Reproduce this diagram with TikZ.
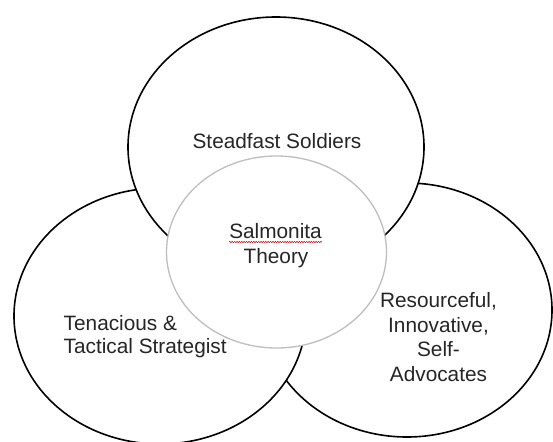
\documentclass[tikz,border=0pt]{standalone}
\usepackage{fontspec}
\setmainfont{Liberation Sans}
\usetikzlibrary{decorations.pathmorphing}
\definecolor{ringgray}{RGB}{190,190,190}
\definecolor{squig}{RGB}{220,30,30}
\begin{document}
\begin{tikzpicture}[x=1pt,y=-1pt,
  blob/.style={draw=black,fill=white,line width=1.6pt},
  core/.style={draw=ringgray,fill=white,line width=1.3pt},
  lbl/.style={inner sep=0pt,font=\fontsize{20.8}{24.5}\selectfont,text=black!85}]
\useasboundingbox (0,0) rectangle (553,441);
% ellipses (back to front)
\path[blob] (407,310) ellipse [x radius=145, y radius=127];
\path[blob] (160,316) ellipse [x radius=146, y radius=128];
\path[blob] (276,147) ellipse [x radius=148, y radius=130];
\path[core] (276.5,252) ellipse [x radius=110, y radius=96];
% labels
\node[lbl,anchor=base] (top) at (277,148) {Steadfast Soldiers};
\node[lbl,anchor=base] (sal) at (275.5,238) {Salmonita};
\node[lbl,anchor=base] (theo) at (276,263) {Theory};
\node[lbl,anchor=base west] (ten) at (63.5,330) {Tenacious \&};
\node[lbl,anchor=base west] (tac) at (63.5,353) {Tactical Strategist};
\node[lbl,anchor=base] (r1) at (438.5,307) {Resourceful,};
\node[lbl,anchor=base] (r2) at (438.5,332) {Innovative,};
\node[lbl,anchor=base] (r3) at (438.5,356) {Self-};
\node[lbl,anchor=base] (r4) at (438.5,381) {Advocates};
% spell-check squiggle
\draw[squig,line width=0.6pt,decorate,decoration={snake,amplitude=0.7pt,segment length=2.4pt}]
  ([yshift=-4pt]sal.base west) -- ([yshift=-4pt]sal.base east);
\end{tikzpicture}
\end{document}
